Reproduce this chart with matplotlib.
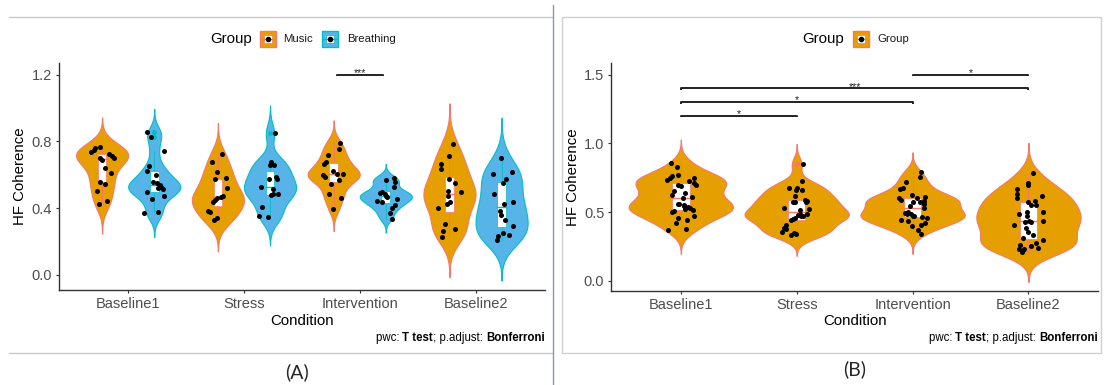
import numpy as np
import matplotlib
matplotlib.use("Agg")
import matplotlib.pyplot as plt
from matplotlib.patches import Rectangle
from matplotlib.lines import Line2D

plt.rcParams['font.family'] = ['Liberation Sans', 'DejaVu Sans']

W, H = 1104, 385

#####################################
#############   DATA   ##############
#####################################

conditions = ["Baseline1", "Stress", "Intervention", "Baseline2"]

music_baseline1 = [0.735, 0.749, 0.759, 0.768, 0.699, 0.689, 0.723, 0.713,
                   0.699, 0.639, 0.609, 0.559, 0.545, 0.505, 0.445, 0.423]
music_stress = [0.723, 0.675, 0.619, 0.573, 0.519, 0.473, 0.469, 0.459,
                0.449, 0.439, 0.383, 0.375, 0.339, 0.329, 0.580]
music_intervention = [0.792, 0.752, 0.716, 0.677, 0.667, 0.623, 0.603, 0.607,
                      0.601, 0.587, 0.571, 0.543, 0.488, 0.464, 0.398]
music_baseline2 = [0.786, 0.710, 0.667, 0.633, 0.573, 0.551, 0.501, 0.498,
                   0.472, 0.438, 0.424, 0.402, 0.308, 0.275, 0.263, 0.229]

breathing_baseline1 = [0.854, 0.828, 0.744, 0.655, 0.623, 0.599, 0.559, 0.553,
                       0.539, 0.529, 0.519, 0.513, 0.499, 0.473, 0.453, 0.369,
                       0.375]
breathing_stress = [0.848, 0.675, 0.659, 0.659, 0.589, 0.575, 0.575, 0.529,
                    0.513, 0.483, 0.483, 0.479, 0.409, 0.355, 0.345]
breathing_intervention = [0.571, 0.581, 0.557, 0.527, 0.497, 0.490, 0.484,
                          0.474, 0.444, 0.436, 0.458, 0.418, 0.404, 0.372,
                          0.338, 0.468]
breathing_baseline2 = [0.700, 0.603, 0.617, 0.577, 0.551, 0.488, 0.428, 0.438,
                       0.384, 0.358, 0.332, 0.295, 0.253, 0.239, 0.233, 0.209]

# horizontal jitter of each point (category units, around its own violin)
music_jitter_baseline1 = [-0.093, -0.073, -0.059, -0.021, -0.021, -0.001, 0.056,
                          0.085, 0.099, 0.027, 0.076, -0.021, 0.021, -0.044,
                          0.042, -0.030]
music_jitter_stress = [0.036, -0.050, -0.012, -0.027, 0.082, 0.044, 0.031,
                       -0.012, -0.027, -0.041, -0.084, -0.070, -0.004, -0.035,
                       0.070]
music_jitter_intervention = [0.056, 0.047, -0.045, -0.066, -0.082, -0.005,
                             0.032, 0.084, -0.091, -0.076, 0.047, -0.020,
                             -0.039, 0.062, -0.005]
music_jitter_baseline2 = [0.032, -0.005, -0.073, -0.076, -0.005, 0.047, -0.011,
                          0.096, -0.011, 0.001, -0.020, -0.097, -0.036, 0.050,
                          -0.057, -0.066]
breathing_jitter_baseline1 = [-0.065, -0.027, 0.087, -0.044, -0.059, 0.013,
                              -0.013, 0.022, 0.050, 0.059, 0.030, 0.079,
                              -0.059, 0.085, -0.021, -0.085, 0.036]
breathing_jitter_stress = [0.039, 0.005, 0.033, -0.004, 0.053, 0.061, -0.010,
                           -0.082, 0.024, 0.067, 0.024, 0.010, -0.068, -0.099,
                           -0.019]
breathing_jitter_intervention = [0.005, 0.073, 0.079, 0.073, -0.029, -0.050,
                                 -0.010, 0.002, -0.075, -0.029, 0.097, 0.082,
                                 0.057, 0.036, 0.057, 0.011]
breathing_jitter_baseline2 = [-0.001, -0.078, 0.088, 0.042, 0.014, -0.062,
                              0.020, 0.097, -0.016, -0.001, 0.030, 0.097, 0.014,
                              0.060, -0.032, -0.041]

# pairwise comparisons: (x1, x2, y, label)
pwc_a = [(2 - 0.2, 2 + 0.2, 1.2, "***")]
pwc_b = [(0, 1, 1.2, "*"), (0, 2, 1.3, "*"), (0, 3, 1.4, "***"), (2, 3, 1.5, "*")]

yticks_a = [0.0, 0.4, 0.8, 1.2]
yticks_b = [0.0, 0.5, 1.0, 1.5]

MUSIC_FILL, MUSIC_EDGE = "#E69F00", "#F8766D"
BREATH_FILL, BREATH_EDGE = "#56B4E9", "#00BFC4"
TICK_GREY = "#4D4D4D"
AXIS_COL = "#333333"


#####################################
############   METHODS   ############
#####################################

def px(x, y):
    return x / W, 1 - y / H


def bw_nrd0(v):
    sd = np.std(v, ddof=1)
    q75, q25 = np.percentile(v, [75, 25])
    lo = min(sd, (q75 - q25) / 1.34)
    return 0.9 * lo * len(v) ** -0.2


def violin(ax, x0, vals, half, fill, edge):
    v = np.asarray(vals)
    bw = bw_nrd0(v)
    grid = np.linspace(v.min() - 3 * bw, v.max() + 3 * bw, 512)
    dens = np.exp(-0.5 * ((grid[:, None] - v[None, :]) / bw) ** 2).sum(axis=1)
    w = dens / dens.max() * half
    ax.fill_betweenx(grid, x0 - w, x0 + w, facecolor=fill, edgecolor=edge,
                     lw=0.8, zorder=1)


def boxplot(ax, x0, vals, width, edge):
    v = np.asarray(vals)
    q1, med, q3 = np.percentile(v, [25, 50, 75])
    iqr = q3 - q1
    inside = v[(v >= q1 - 1.5 * iqr) & (v <= q3 + 1.5 * iqr)]
    ax.plot([x0, x0], [inside.min(), q1], color=edge, lw=0.6, zorder=2)
    ax.plot([x0, x0], [q3, inside.max()], color=edge, lw=0.6, zorder=2)
    ax.add_patch(Rectangle((x0 - width / 2, q1), width, q3 - q1,
                           facecolor="white", edgecolor=edge, lw=0.5, zorder=2))
    ax.plot([x0 - width / 2, x0 + width / 2], [med, med], color=edge, lw=1.0,
            zorder=2.1)
    out = v[(v < q1 - 1.5 * iqr) | (v > q3 + 1.5 * iqr)]
    ax.scatter(np.full(len(out), x0), out, s=13, color=edge, lw=0, zorder=2.2)


def points(ax, x0, vals, jitter):
    ax.scatter(x0 + np.asarray(jitter), vals, s=13, color="black", lw=0,
               zorder=3)


def bracket(ax, x1, x2, y, label, tip):
    ax.plot([x1, x1, x2, x2], [y - tip, y, y, y - tip], color="#222222",
            lw=1.4, zorder=4, solid_capstyle="butt")
    ax.annotate(label, ((x1 + x2) / 2, y), xytext=(0, -1.0),
                textcoords="offset points", ha="center", va="baseline",
                fontsize=7.5, color="#222222")


def style_axes(ax, ylim, yticks):
    ax.set_xlim(-0.6, 3.6)
    ax.set_ylim(*ylim)
    ax.set_xticks(range(len(conditions)))
    ax.set_xticklabels(conditions)
    ax.set_yticks(yticks)
    ax.set_yticklabels([f"{t:.1f}" for t in yticks])
    for side in ("top", "right"):
        ax.spines[side].set_visible(False)
    for side in ("left", "bottom"):
        ax.spines[side].set_color(AXIS_COL)
        ax.spines[side].set_linewidth(1.0)
    ax.tick_params(length=2.5, width=0.8, color=AXIS_COL, labelcolor=TICK_GREY,
                   labelsize=10.5, pad=2.5)
    ax.set_xlabel("Condition", fontsize=10.8, labelpad=2)
    ax.set_ylabel("HF Coherence", fontsize=10.8, labelpad=3)


def legend_key(fig, x, y, fill, edge):
    # x, y: top-left corner in pixels, 16 px square
    s = 16
    fig.add_artist(Rectangle(px(x, y + s), s / W, s / H, transform=fig.transFigure,
                             facecolor=fill, edgecolor=edge, lw=1.0))
    fig.add_artist(Rectangle(px(x + 4, y + 12), 8 / W, 8 / H,
                             transform=fig.transFigure, facecolor="white",
                             edgecolor=edge, lw=0.5))
    fig.add_artist(Line2D([(x + 1) / W, (x + s - 1) / W], [1 - (y + 8) / H] * 2,
                          transform=fig.transFigure, color=edge, lw=0.8))
    fig.add_artist(Line2D([(x + 8) / W], [1 - (y + 8) / H], marker="o",
                          markersize=3, color="black", lw=0,
                          transform=fig.transFigure))


def caption(fig, x_right, y):
    renderer = fig.canvas.get_renderer()
    pieces = [("Bonferroni", "bold"), ("; p.adjust: ", "normal"),
              ("T test", "bold"), ("pwc: ", "normal")]
    xr = x_right
    for text, weight in pieces:
        t = fig.text(*px(xr, y), text, ha="right", va="center", fontsize=8.3,
                     fontweight=weight, color="black")
        bb = t.get_window_extent(renderer)
        xr -= bb.width


#####################################
##############   PLOT   #############
#####################################

fig = plt.figure(figsize=(W / 100, H / 100), dpi=100)

music_sets = [music_baseline1, music_stress, music_intervention, music_baseline2]
breath_sets = [breathing_baseline1, breathing_stress, breathing_intervention,
               breathing_baseline2]
music_jit = [music_jitter_baseline1, music_jitter_stress,
             music_jitter_intervention, music_jitter_baseline2]
breath_jit = [breathing_jitter_baseline1, breathing_jitter_stress,
              breathing_jitter_intervention, breathing_jitter_baseline2]

# ---- panel A: Music vs Breathing ----
axA = fig.add_axes([58.7 / W, 1 - 290 / H, (545 - 58.7) / W, (290 - 63) / H])
for i in range(len(conditions)):
    xm, xb = i - 0.225, i + 0.225
    violin(axA, xm, music_sets[i], 0.225, MUSIC_FILL, MUSIC_EDGE)
    violin(axA, xb, breath_sets[i], 0.225, BREATH_FILL, BREATH_EDGE)
    boxplot(axA, xm, music_sets[i], 0.075, MUSIC_EDGE)
    boxplot(axA, xb, breath_sets[i], 0.075, BREATH_EDGE)
    points(axA, xm, music_sets[i], music_jit[i])
    points(axA, xb, breath_sets[i], breath_jit[i])
for x1, x2, y, lab in pwc_a:
    bracket(axA, x1, x2, y, lab, 0.008)
style_axes(axA, (-0.09, 1.27), yticks_a)

# ---- panel B: both groups pooled ----
axB = fig.add_axes([611.3 / W, 1 - 290.7 / H, (1098 - 611.3) / W, (290.7 - 63) / H])
for i in range(len(conditions)):
    pooled = music_sets[i] + breath_sets[i]
    jit = [j * 1.3 for j in music_jit[i] + breath_jit[i]]
    violin(axB, i, pooled, 0.45, MUSIC_FILL, MUSIC_EDGE)
    boxplot(axB, i, pooled, 0.15, MUSIC_EDGE)
    points(axB, i, pooled, jit)
for x1, x2, y, lab in pwc_b:
    bracket(axB, x1, x2, y, lab, 0.01)
style_axes(axB, (-0.073, 1.585), yticks_b)

# ---- legends ----
fig.text(*px(210, 39.5), "Group", fontsize=10.8, va="center", ha="left")
legend_key(fig, 260, 31, MUSIC_FILL, MUSIC_EDGE)
fig.text(*px(283, 39.5), "Music", fontsize=8.2, va="center", ha="left",
         color="#1A1A1A")
legend_key(fig, 321.5, 31, BREATH_FILL, BREATH_EDGE)
fig.text(*px(347, 39.5), "Breathing", fontsize=8.2, va="center", ha="left",
         color="#1A1A1A")

fig.text(*px(802.5, 39.5), "Group", fontsize=10.8, va="center", ha="left")
legend_key(fig, 853, 31, MUSIC_FILL, MUSIC_EDGE)
fig.text(*px(877, 39.5), "Group", fontsize=8.2, va="center", ha="left",
         color="#1A1A1A")

# ---- captions ----
caption(fig, 545, 338)
caption(fig, 1098, 338)

# ---- frames and separator ----
for yy in (17, 353):
    fig.add_artist(Line2D([9 / W, 553 / W], [1 - yy / H] * 2,
                          transform=fig.transFigure, color="#C8C8C8", lw=1.0))
fig.add_artist(Rectangle(px(561.5, 353), (1101 - 561.5) / W, (353 - 17) / H,
                         transform=fig.transFigure, facecolor="none",
                         edgecolor="#D0D0D0", lw=1.0))
fig.add_artist(Line2D([553 / W] * 2, [1 - 5 / H, 0], transform=fig.transFigure,
                      color="#8797BF", lw=1.0))

fig.text(*px(297, 372), "(A)", fontsize=14, family="Lato", ha="center",
         va="center", color="#262626")
fig.text(*px(855, 369), "(B)", fontsize=14, family="Lato", ha="center",
         va="center", color="#262626")

fig.savefig("out.png", dpi=100)
